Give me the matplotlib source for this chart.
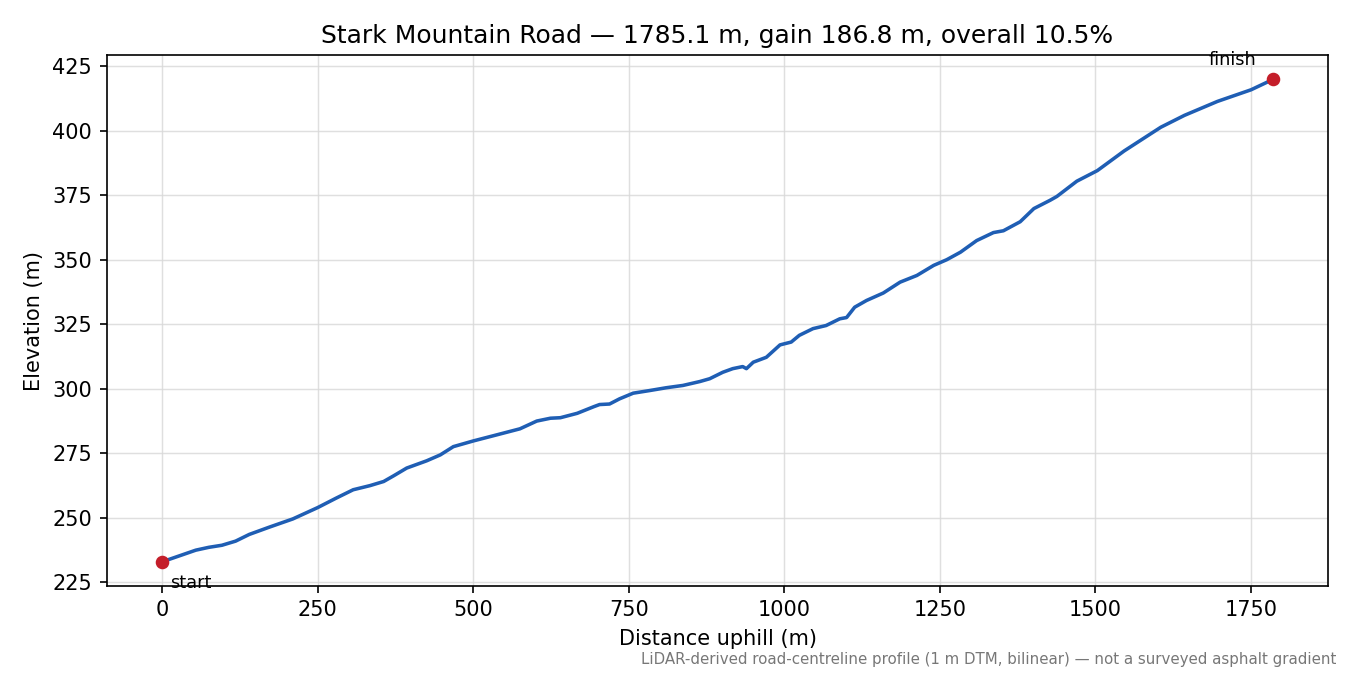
import matplotlib
matplotlib.use("Agg")
import matplotlib.pyplot as plt

# profile (distance along road, elevation)
dist_m = [0, 54, 75, 96, 118, 140, 172, 210, 250, 280, 307, 334, 356, 372, 393,
          425, 447, 468, 500, 532, 575, 602, 624, 640, 667, 694, 703, 719, 735,
          757, 783, 810, 837, 864, 880, 901, 917, 933, 939, 950, 971, 993, 1011,
          1024, 1046, 1067, 1089, 1100, 1113, 1132, 1159, 1186, 1213, 1240, 1261,
          1283, 1309, 1336, 1352, 1379, 1401, 1427, 1438, 1470, 1503, 1546, 1605,
          1643, 1696, 1750, 1785.1]
elev_m = [233.0, 237.5, 238.6, 239.4, 241.0, 243.6, 246.4, 249.6, 254.0, 257.7,
          260.9, 262.5, 264.1, 266.3, 269.3, 272.1, 274.4, 277.6, 279.8, 281.8,
          284.5, 287.5, 288.6, 288.8, 290.5, 293.1, 293.9, 294.1, 296.1, 298.3,
          299.3, 300.4, 301.3, 302.8, 303.9, 306.4, 307.8, 308.6, 307.8, 310.3,
          312.2, 317.0, 318.1, 320.7, 323.3, 324.5, 327.1, 327.6, 331.6, 334.2,
          337.1, 341.3, 343.9, 347.8, 350.0, 352.9, 357.4, 360.5, 361.2, 364.7,
          369.8, 373.0, 374.5, 380.4, 384.5, 392.1, 401.3, 405.9, 411.3, 415.8,
          419.8]

title = "Stark Mountain Road \u2014 1785.1 m, gain 186.8 m, overall 10.5%"
note = "LiDAR-derived road-centreline profile (1 m DTM, bilinear) \u2014 not a surveyed asphalt gradient"

fig, ax = plt.subplots(figsize=(9, 4.5), dpi=150)
ax.plot(dist_m, elev_m, color="#1f5eb4", linewidth=1.7, solid_joinstyle="round")
ax.plot([dist_m[0], dist_m[-1]], [elev_m[0], elev_m[-1]], "o",
        color="#c41e2a", markersize=5.5, zorder=3)

ax.annotate("start", (dist_m[0], elev_m[0]), xytext=(4, -6),
            textcoords="offset points", ha="left", va="top", fontsize=8.5)
ax.annotate("finish", (dist_m[-1], elev_m[-1]), xytext=(-8, 5),
            textcoords="offset points", ha="right", va="bottom", fontsize=8.5)

ax.grid(True, color="#d8d8d8", linewidth=0.7, alpha=0.8)
ax.set_xlabel("Distance uphill (m)")
ax.set_ylabel("Elevation (m)")
ax.set_title(title, fontsize=12)

fig.subplots_adjust(left=0.079, right=0.984, top=0.918, bottom=0.132)
fig.text(0.99, 0.012, note, ha="right", va="bottom", fontsize=7.2, color="#777777")

plt.savefig("out.png", dpi=150)
